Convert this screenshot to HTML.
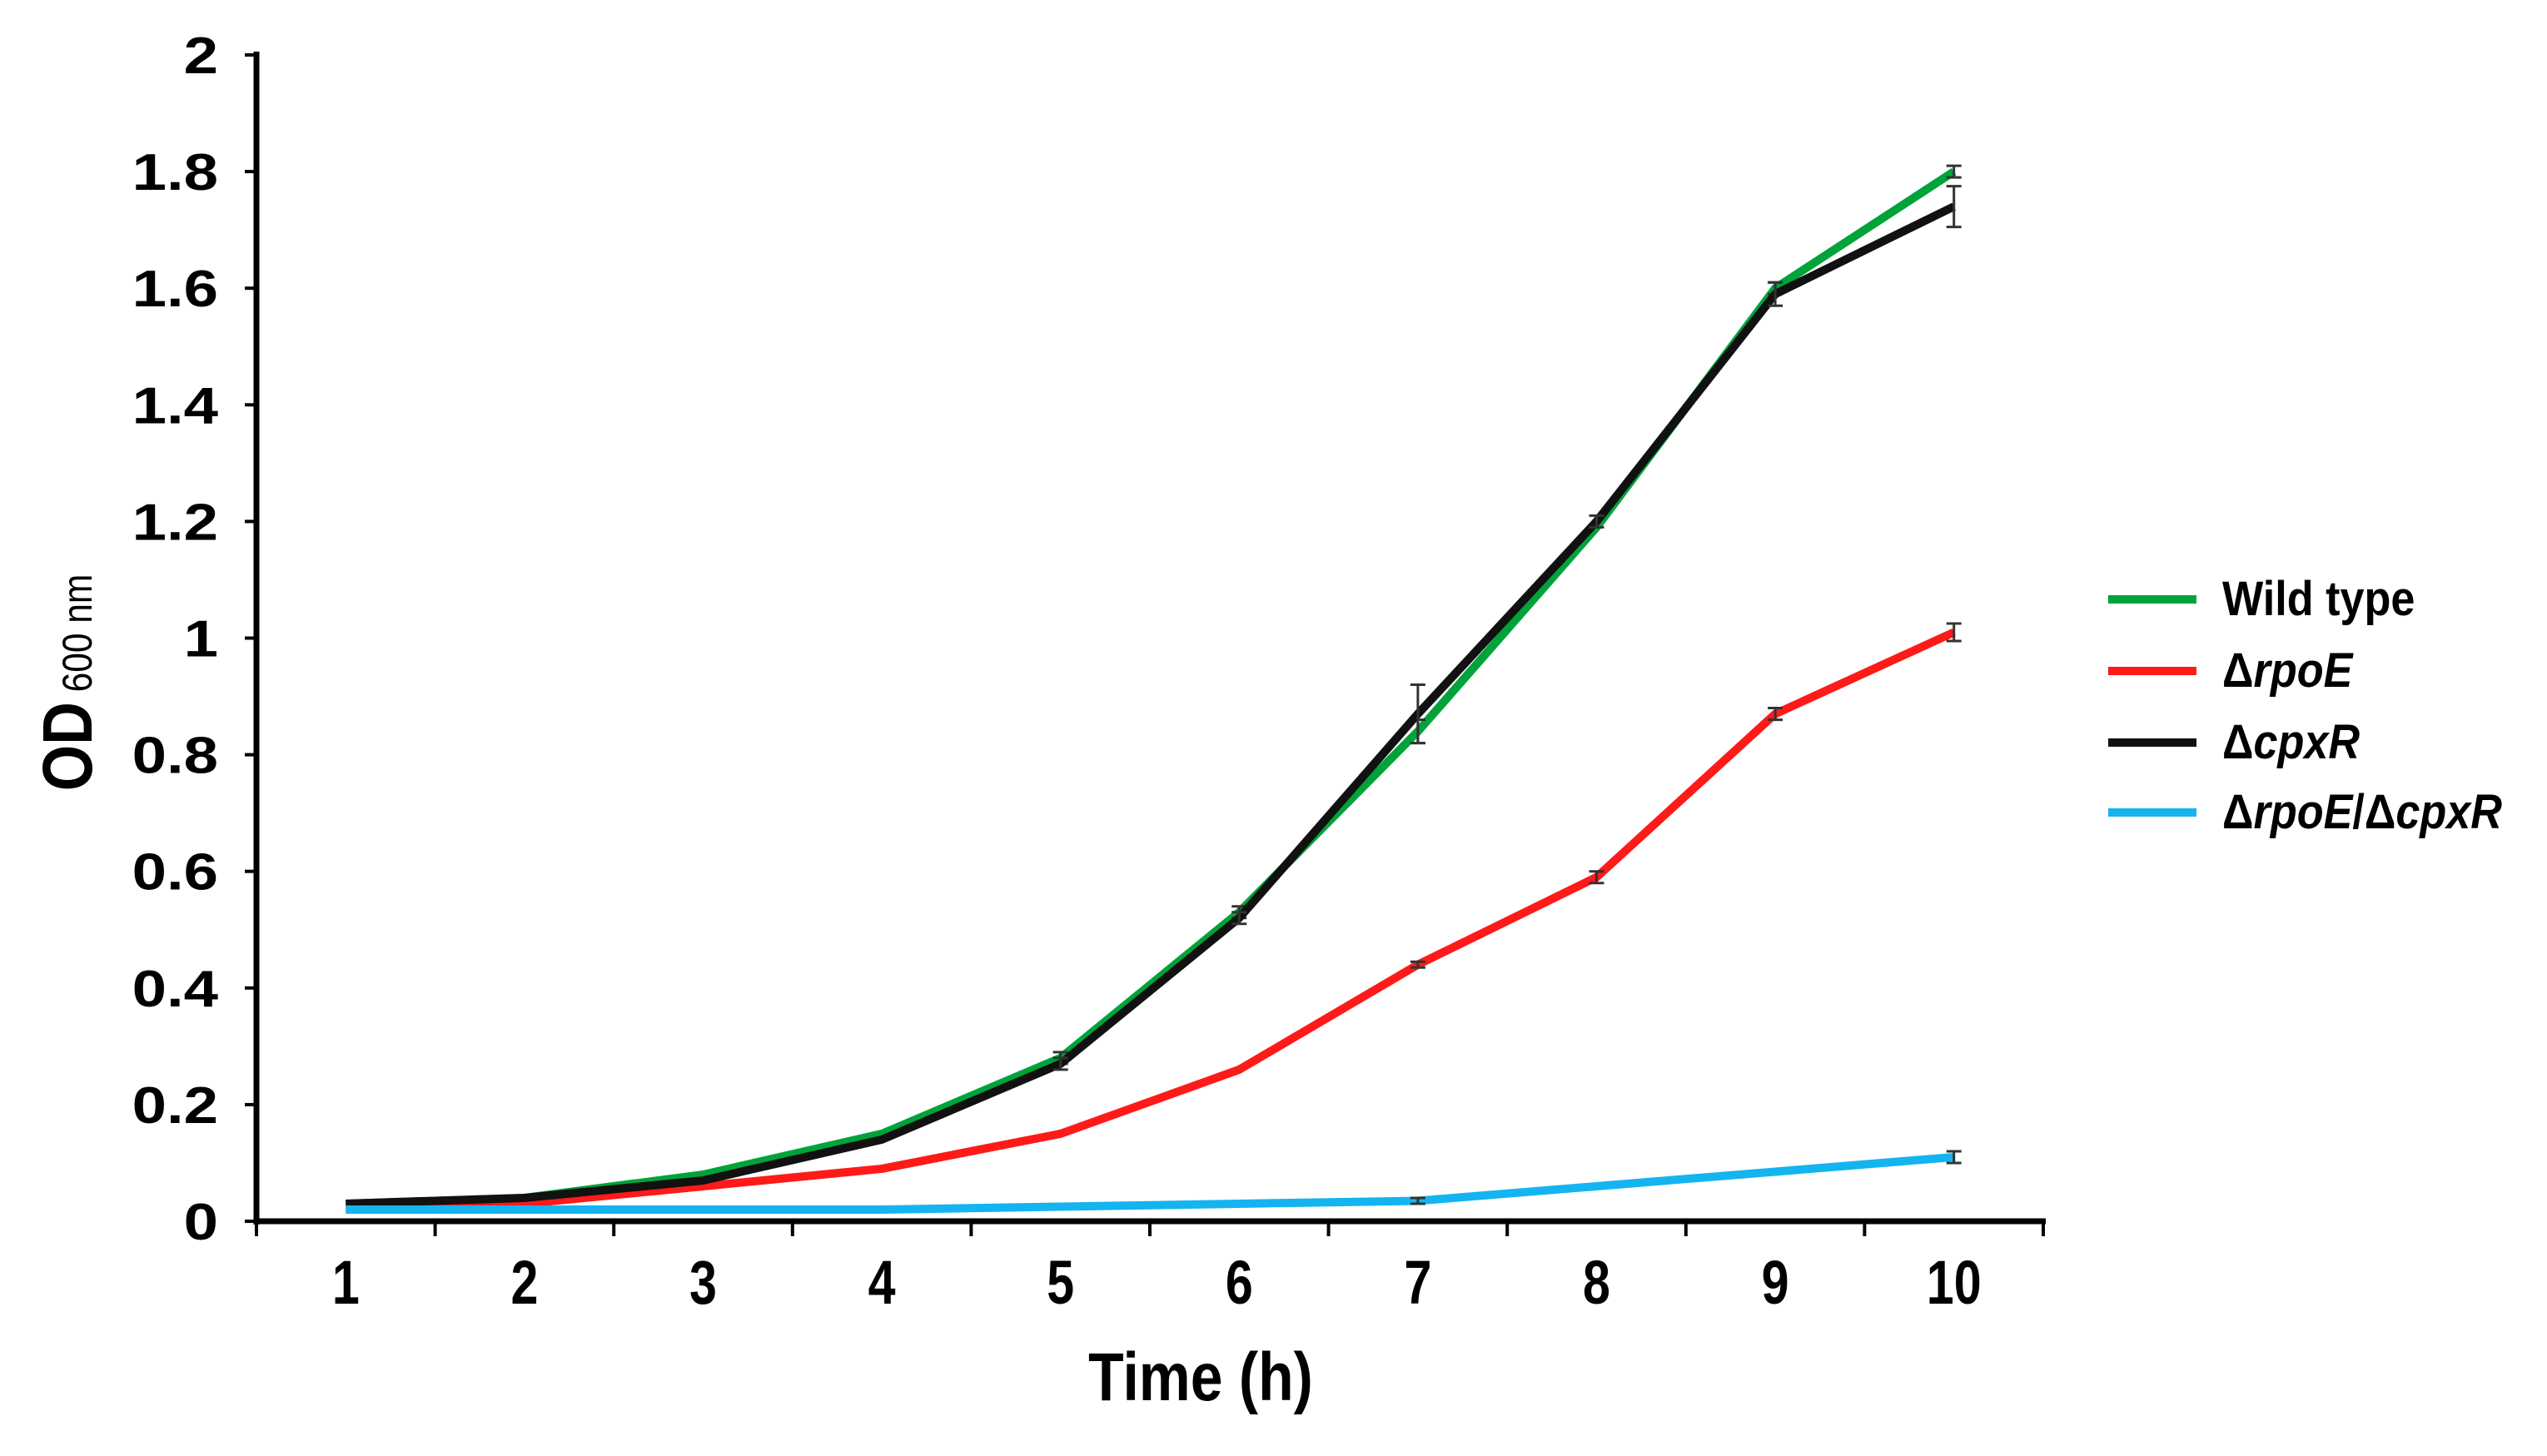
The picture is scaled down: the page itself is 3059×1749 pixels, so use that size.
<!DOCTYPE html>
<html><head><meta charset="utf-8"><style>
html,body{margin:0;padding:0;background:#fff;}
svg text{font-family:"Liberation Sans",sans-serif;font-weight:bold;}
</style></head><body>
<svg id="chart" width="3059" height="1744" viewBox="0 0 3059 1744" xmlns="http://www.w3.org/2000/svg">
<g id="axes"></g><g id="series"></g><g id="legend"></g>
</svg>
<script>
const categories=[1,2,3,4,5,6,7,8,9,10];
const yTicks=[0,0.2,0.4,0.6,0.8,1,1.2,1.4,1.6,1.8,2];
const yTickLabels=["0","0.2","0.4","0.6","0.8","1","1.2","1.4","1.6","1.8","2"];
const wildType=[0.03,0.04,0.08,0.15,0.28,0.53,0.84,1.19,1.60,1.80];
const rpoE=[0.02,0.03,0.06,0.09,0.15,0.26,0.44,0.59,0.87,1.01];
const cpxR=[0.03,0.04,0.07,0.14,0.27,0.52,0.87,1.20,1.59,1.74];
const rpoEcpxR=[0.02,0.02,0.02,0.02,0.025,0.03,0.035,0.06,0.085,0.11];
const wildTypeErr=[0,0,0,0,0.01,0.01,0.02,0,0.01,0.01];
const rpoEErr=[0,0,0,0,0,0,0.005,0.01,0.01,0.015];
const cpxRErr=[0,0,0,0,0.01,0.01,0.05,0.01,0.02,0.035];
const rpoEcpxRErr=[0,0,0,0,0,0,0.005,0,0,0.01];
const NS="http://www.w3.org/2000/svg";
const X0=308,X1=2454,Y0=1467,Y1=66;
const bw=(X1-X0)/categories.length;
function xs(i){return X0+(i+0.5)*bw;}
function ys(v){return Y0-(v-0)/(2-0)*(Y0-Y1);}
function mk(tag,attrs,parent){const e=document.createElementNS(NS,tag);for(const k in attrs)e.setAttribute(k,attrs[k]);parent.appendChild(e);return e;}
const axes=document.getElementById('axes');
let a=mk('line',{x1:X0,y1:Y1-4,x2:X0,y2:Y0+4,stroke:'#000','stroke-width':7},axes);


a=mk('line',{x1:X0,y1:Y0,x2:X1+3,y2:Y0,stroke:'#000','stroke-width':7},axes);


yTicks.forEach((v,i)=>{
 const t=mk('line',{x1:X0-14,y1:ys(v),x2:X0,y2:ys(v),stroke:'#000','stroke-width':4},axes);
 
 
 const l=mk('text',{x:0,y:0,'text-anchor':'end','font-size':62,transform:`translate(262,${ys(v)+22}) scale(1.2,1)`},axes);
 l.textContent=yTickLabels[i];
 
 
});
for(let i=0;i<=categories.length;i++){
 const t=mk('line',{x1:X0+i*bw,y1:Y0,x2:X0+i*bw,y2:Y0+18,stroke:'#000','stroke-width':4},axes);
 
 
}
categories.forEach((c,i)=>{
 const l=mk('text',{x:0,y:0,'text-anchor':'middle','font-size':74,transform:`translate(${xs(i)},1566) scale(0.8,1)`},axes);
 l.textContent=c;
 
 
});
let tt=mk('text',{x:0,y:0,'text-anchor':'middle','font-size':82,transform:'translate(1442,1682) scale(0.85,1)'},axes);
tt.textContent='Time (h)';


tt=mk('text',{x:0,y:0,'text-anchor':'middle','font-size':84,transform:'translate(110,820) rotate(-90) scale(0.85,1)'},axes);
tt.innerHTML='OD<tspan font-size="50" font-weight="normal"> 600 nm</tspan>';


const ser=document.getElementById('series');
const all=[[wildType,wildTypeErr,'#00a33a','wild-type'],[rpoE,rpoEErr,'#ff1a1a','rpoe'],[cpxR,cpxRErr,'#111','cpxr'],[rpoEcpxR,rpoEcpxRErr,'#14b4f0','rpoe-cpxr']];
all.forEach(([vals,errs,col,nm])=>{
 const p=mk('polyline',{points:vals.map((v,i)=>xs(i)+','+ys(v)).join(' '),fill:'none',stroke:col,'stroke-width':10,'stroke-linejoin':'round'},ser);
 
 
 vals.forEach((v,i)=>{
  if(!errs[i])return;
  const g=mk('path',{d:`M${xs(i)},${ys(v+errs[i])}V${ys(v-errs[i])}M${xs(i)-9},${ys(v+errs[i])}H${xs(i)+9}M${xs(i)-9},${ys(v-errs[i])}H${xs(i)+9}`,stroke:'#333','stroke-width':3,fill:'none'},ser);
  
  
 });
});
const leg=document.getElementById('legend');
const labels=['Wild type','<tspan>Δ</tspan><tspan font-style="italic">rpoE</tspan>','<tspan>Δ</tspan><tspan font-style="italic">cpxR</tspan>','<tspan>Δ</tspan><tspan font-style="italic">rpoE</tspan><tspan>/Δ</tspan><tspan font-style="italic">cpxR</tspan>'];
const ly=[720,806,892,976];
all.forEach((s,i)=>{
 const l=mk('line',{x1:2532,y1:ly[i],x2:2638,y2:ly[i],stroke:s[2],'stroke-width':10},leg);
 
 
 const t=mk('text',{x:0,y:0,'font-size':58,transform:`translate(2669,${ly[i]+19}) scale(0.9,1)`},leg);
 t.innerHTML=labels[i];
 
 
});
</script>
</body></html>
